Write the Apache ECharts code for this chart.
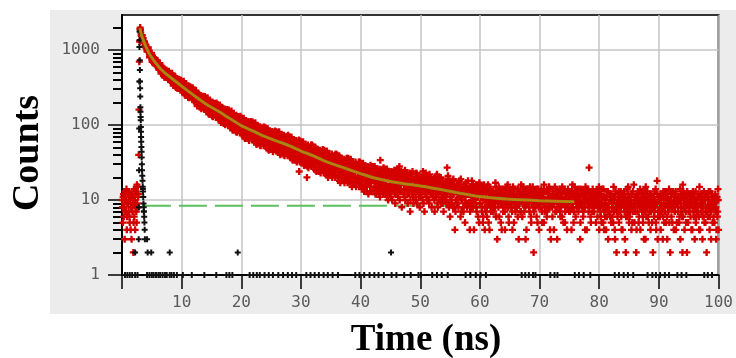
<!DOCTYPE html>
<html>
<head>
<meta charset="utf-8">
<script src="https://cdn.jsdelivr.net/npm/echarts@6/dist/echarts.min.js"></script>
<style>html,body{margin:0;padding:0;background:#fff;}#c{width:736px;height:358px;}</style>
</head>
<body>
<div id="c"></div>
<script>
// ---- data ----
const xMin = 0, xMax = 100, xInterval = 10;
const yMin = 1, yMax = 2930;
const yTickValues = [1, 10, 100, 1000];
const minorTickValues = [2,3,4,5,6,7,8,9,20,30,40,50,60,70,80,90,200,300,400,500,600,700,800,900,2000];
// red decay counts, channel set A: one value per 0.1 ns starting at 0.1 ns
const redStartA = 0.1, redStep = 0.1;
const redCountsA = [
8,11,6,9,13,7,10,4,9,12,
7,10,5,12,8,3,11,9,2,14,
9,4,12,7,16,8,11,40,700,1900,
1865,1571,1579,1569,1366,1260,1311,1279,1156,1080,
1052,953,1024,1081,982,800,884,908,848,824,
720,800,673,747,787,629,683,611,725,653,
655,584,545,622,525,582,511,547,488,570,
433,515,535,458,503,443,514,414,485,437,
463,374,438,489,400,336,419,442,383,359,
347,418,307,371,406,307,356,291,394,329,
378,314,280,349,262,343,278,311,257,332,
232,301,317,253,291,250,309,225,285,245,
269,202,250,288,221,179,242,260,215,197,
196,248,165,213,240,173,210,161,240,190,
227,182,157,206,145,206,160,183,144,198,
132,181,193,147,174,150,193,132,175,146,
170,120,156,185,135,108,156,169,135,122,
124,164,101,137,157,108,137,98,159,121,
151,117,98,136,89,137,101,119,89,131,
81,119,127,93,113,96,128,82,115,93,
112,74,101,123,85,66,102,113,87,77,
80,111,62,91,106,70,92,63,110,80,
105,79,64,93,57,97,69,83,59,92,
54,83,90,63,79,67,93,56,82,65,
82,52,73,90,60,46,74,82,62,54,
58,82,44,66,78,50,68,45,81,58,
79,58,47,70,41,73,51,62,43,69,
40,63,69,47,60,51,71,42,63,49,
62,38,55,69,45,34,57,63,47,40,
43,62,32,50,59,37,24,32,61,43,
59,43,34,51,29,55,37,46,31,20,
28,47,51,34,44,37,54,30,47,36,
46,27,41,51,33,24,42,47,34,29,
31,46,23,36,44,27,38,23,46,32,
44,31,24,38,21,41,27,34,22,38,
21,35,38,25,33,27,40,22,35,26,
35,20,31,39,24,17,32,36,25,21,
24,35,17,28,33,20,29,17,36,24,
35,24,18,30,16,32,21,26,17,30,
16,27,30,19,25,21,32,17,27,20,
27,15,24,31,19,13,25,28,20,16,
18,28,12,22,27,15,23,13,28,19,
28,19,14,24,12,26,16,21,13,24,
12,22,34,15,21,17,26,13,22,16,
23,12,20,26,15,10,21,24,16,13,
15,24,10,18,23,13,19,9,25,16,
14,22,11,18,28,13,20,24,8,17,
21,12,17,24,10,19,14,22,9,16,
12,23,7,15,20,13,24,11,18,15,
19,11,16,22,9,17,13,21,8,15,
12,20,14,10,22,16,7,18,23,13,
18,10,15,21,9,13,20,12,8,16,
11,17,14,7,20,12,16,22,9,15,
16,10,13,19,9,14,18,11,7,15,
10,16,12,9,27,13,17,8,19,6,
15,9,13,18,8,12,16,4,7,14,
9,15,12,8,17,11,14,19,7,12,
14,8,12,16,5,11,15,9,13,18,
9,14,4,15,8,12,10,16,11,4,
13,10,16,8,11,14,6,12,17,9,
11,14,8,12,5,10,16,4,13,7,
10,6,13,9,15,4,11,8,12,10,
13,9,7,11,10,17,6,12,3,9,
8,12,10,14,5,11,9,13,7,10,
12,4,9,11,15,8,10,6,13,11,
9,13,11,7,10,12,5,14,9,8,
11,8,14,10,3,9,12,7,16,10,
6,10,12,9,13,8,11,4,10,14,
12,9,7,15,10,5,13,9,11,2,
10,13,8,11,6,12,9,14,4,10,
9,11,14,7,10,12,5,9,13,8,
13,6,10,12,9,15,8,11,3,10,
8,12,9,4,11,10,14,7,12,9,
11,9,13,10,6,8,12,15,9,5,
10,14,7,9,12,4,11,8,13,10,
7,10,12,9,16,8,5,11,10,13,
12,8,10,13,7,11,9,3,14,9,
9,11,6,10,12,8,15,10,4,11,
13,7,27,9,10,5,12,9,14,8,
8,12,10,11,9,11,6,13,10,4,
9,7,12,5,10,8,14,4,11,6,
8,11,6,13,3,9,7,10,12,5,
10,6,9,15,7,4,11,8,2,9,
7,12,5,8,10,13,6,9,4,11,
11,8,3,10,6,9,14,7,12,5,
6,10,9,4,12,7,8,16,5,10,
9,2,11,7,10,5,13,8,4,9,
12,7,6,10,3,11,9,15,6,8,
8,10,5,9,12,4,7,11,10,2,
10,6,13,8,5,9,18,3,7,11,
7,9,4,11,8,12,6,10,5,13,
11,5,10,3,9,7,14,8,2,10,
6,12,8,9,4,11,7,13,9,5,
9,7,11,5,10,3,12,8,6,16,
13,8,4,10,7,9,2,11,5,9,
8,10,6,12,9,4,13,7,10,3,
10,5,9,7,11,8,6,15,4,12,
7,11,3,9,6,10,12,5,8,2,
12,6,10,8,4,13,7,9,11,5,
9,8,5,11,7,3,10,6,14,4
];
// red decay counts, channel set B: one value per 0.1 ns starting at 0.05 ns
const redStartB = 0.05;
const redCountsB = [
10,5,12,8,3,11,7,14,6,9,
9,13,6,10,4,8,12,7,11,5,
6,10,8,13,5,9,15,12,160,1300,
1993,1710,1533,1566,1354,1436,1279,1265,1138,1186,
1102,1023,980,1066,958,924,851,887,826,912,
694,782,803,721,769,668,741,637,711,662,
640,547,613,666,574,485,569,593,533,509,
478,555,432,503,542,426,480,408,522,450,
495,424,385,462,366,448,376,412,352,436,
317,394,411,340,382,334,400,306,373,328,
360,278,337,384,302,250,327,349,294,272,
269,334,231,290,323,235,280,220,315,255,
293,239,210,268,195,264,210,237,192,255,
172,230,243,190,221,192,242,171,221,187,
214,156,197,231,172,139,194,209,170,155,
156,203,129,172,195,137,170,126,196,152,
187,147,126,169,115,172,130,151,116,165,
105,150,160,119,143,123,161,106,145,119,
141,97,128,154,109,85,127,139,109,97,
100,135,80,112,130,86,111,78,131,97,
124,94,78,111,70,114,83,98,72,109,
66,99,107,76,94,81,111,69,98,79,
97,62,87,107,72,55,88,98,74,65,
68,95,53,77,91,59,78,53,94,68,
92,68,55,81,48,84,59,71,50,79,
47,73,79,55,69,59,83,49,73,57,
73,45,65,81,53,40,67,74,55,48,
52,73,39,59,70,44,60,39,73,51,
70,51,41,62,36,64,44,54,38,61,
34,55,60,41,52,44,63,36,55,42,
54,32,48,60,38,29,49,55,41,35,
37,54,27,43,51,32,45,28,54,38,
52,37,29,45,25,48,32,40,27,45,
24,40,44,29,38,32,47,26,41,31,
40,23,35,45,28,20,37,41,30,25,
28,41,20,32,39,24,33,20,41,28,
40,28,21,34,18,36,24,30,20,34,
18,31,34,22,29,24,36,19,31,23,
31,18,27,35,21,15,28,32,23,19,
21,32,15,25,30,18,26,15,32,22,
31,21,16,27,14,28,18,23,15,27,
13,24,27,17,23,19,29,15,25,18,
25,14,22,28,17,12,23,26,18,15,
17,26,11,20,25,14,21,12,27,17,
26,18,13,22,11,24,15,20,12,23,
11,21,23,14,19,16,25,12,21,15,
19,12,25,15,21,10,17,23,13,18,
13,20,16,11,25,18,14,21,12,19,
17,14,21,10,16,22,12,19,9,15,
14,18,10,23,13,16,20,11,17,12,
17,11,19,13,24,9,15,21,12,16,
11,19,14,17,10,22,13,16,12,18,
16,12,19,10,14,18,11,21,13,8,
12,17,10,14,20,11,15,9,18,13,
14,11,18,10,15,12,21,9,13,16,
11,17,10,14,12,19,8,13,15,10,
13,10,16,9,12,18,11,6,14,10,
10,13,7,15,11,9,17,12,8,14,
12,9,15,7,13,10,18,11,8,14,
10,15,9,12,7,13,11,16,5,12,
9,12,15,7,11,6,13,10,8,14,
12,8,10,16,5,11,9,14,7,12,
7,11,13,9,12,8,15,6,10,13,
11,15,6,10,9,13,4,12,14,8,
10,7,12,14,9,11,16,8,5,12,
13,10,8,11,4,15,9,12,10,7,
8,12,10,6,14,9,11,13,7,12,
11,9,15,12,7,10,3,14,9,11,
10,14,8,11,13,6,12,9,15,8,
7,11,12,9,10,14,5,11,8,13,
12,8,10,13,5,11,9,16,7,10,
9,13,7,10,12,8,14,4,11,9,
11,6,13,9,10,15,7,12,10,3,
8,12,10,14,7,9,11,6,13,10,
13,9,5,11,10,12,8,14,9,7,
10,12,8,4,13,9,11,7,15,10,
6,11,9,12,10,14,8,10,5,12,
12,8,13,7,11,9,4,12,10,14,
9,14,10,8,12,6,11,13,7,10,
11,7,12,10,5,13,9,8,12,15,
8,12,6,10,9,14,5,11,7,9,
10,4,11,8,13,7,9,12,6,10,
12,8,9,5,11,10,3,13,8,7,
6,10,13,9,7,11,8,4,12,10,
9,13,7,11,2,8,10,6,15,9,
11,7,10,8,12,5,13,9,7,11,
7,10,4,12,9,11,6,10,14,8,
10,9,12,5,8,13,7,3,10,12,
13,6,9,11,7,10,12,8,5,9,
8,11,7,10,14,4,9,12,6,10,
10,6,12,9,7,11,3,13,8,11,
7,12,9,6,11,8,10,5,13,9,
11,8,5,13,9,10,7,12,4,10,
9,11,8,10,6,14,9,7,11,2,
6,10,12,8,11,5,10,13,9,7,
12,7,9,11,4,10,8,12,6,11,
8,13,6,10,9,7,12,4,11,9,
10,9,12,6,8,13,5,10,7,12,
7,11,8,13,10,6,9,3,12,8,
11,6,10,9,12,8,4,11,7,10
];
// instrument response (black) points [time ns, counts]
const irfPoints = [
[2.80,3],[2.83,8],[2.86,25],[2.88,90],[2.90,380],[2.92,1100],[2.94,1760],[2.96,1360],
[2.98,730],[3.00,540],[3.02,380],[3.04,310],[3.06,240],[3.08,173],[3.10,150],[3.12,128],
[3.14,116],[3.16,94],[3.18,81],[3.20,69],[3.22,60],[3.25,51],[3.28,44],[3.30,37],
[3.33,30],[3.36,25],[3.40,21],[3.44,18],[3.48,15],[3.50,14],[3.52,13],[3.56,11],
[3.60,9],[3.64,8],[3.66,7],[3.68,7],[3.72,6],[3.76,5],[3.80,4],[3.84,3],
[2.2,2],[4.2,3],[4.3,2],[4.9,2],[8.0,2],[19.4,2],[45.1,2]
];
// black points lying on the count = 1 baseline (time ns)
const baselineTimes = [
0.5,0.9,1.3,1.7,2.2,2.6,4.2,4.6,5.0,5.3,5.7,6.1,6.4,6.8,7.2,7.5,8.0,8.3,8.7,9.2,
10.2,11.7,13.8,15.8,17.5,18.0,18.5,21.4,22.0,22.6,23.1,23.9,24.6,25.3,26.2,27.0,27.8,
28.5,29.2,30.9,31.6,32.3,33.0,33.8,34.5,35.3,36.2,39.1,39.8,40.6,41.5,42.3,43.0,43.9,
45.2,46.0,47.3,48.4,49.7,50.1,52.0,52.8,53.6,54.6,57.6,58.4,59.3,60.1,61.0,67.0,67.6,
68.2,68.9,69.3,71.8,72.5,73.0,75.9,76.6,77.4,78.5,82.6,83.3,84.1,84.8,85.7,88.1,88.9,
89.5,90.2,91.0,91.7,93.1,93.8,94.6,97.6,98.2,98.9
];
// fitted decay curve points [time ns, counts]
const fitPoints = [
[3.0,1950],[3.2,1650],[3.5,1400],[4.0,1120],[4.7,860],[6,620],[7,510],[8,440],[10,330],
[12,250],[14,192],[16.3,150],[18,123],[20,98],[22,83],[24,70],[26,61],[28,53],[30,45],
[32,39],[34,33],[36,29],[38,25.5],[40,22.5],[42,20],[45,17.7],[48,16.2],[50,15.4],
[53,14],[56,12.6],[60,11.1],[65,10.2],[70,9.8],[75.8,9.5]
];
// background level (green dashed)
const bgLevel = 8.4, bgFrom = 3.5, bgTo = 100;

// ---- build ----
const redData = redCountsA.map((c, i) => [+(redStartA + i * redStep).toFixed(3), c])
  .concat(redCountsB.map((c, i) => [+(redStartB + i * redStep).toFixed(3), c]));
const blackData = irfPoints.concat(baselineTimes.map(t => [t, 1]));
const plus = 'path://M2,0H4V2H6V4H4V6H2V4H0V2H2Z';
const isMajor = v => yTickValues.some(t => Math.abs(t - v) < 1e-6 * t);

const chart = echarts.init(document.getElementById('c'), null, {renderer: 'canvas'});
chart.setOption({
  animation: false,
  backgroundColor: '#ffffff',
  graphic: [
    {type: 'rect', z: -10, silent: true, shape: {x: 50, y: 10, width: 686, height: 304}, style: {fill: '#ececec'}},
    {type: 'text', x: 28, y: 153, rotation: Math.PI / 2,
     style: {text: 'Counts', fontFamily: 'Liberation Serif', fontWeight: 'bold', fontSize: 38, fill: '#000', align: 'center', verticalAlign: 'middle'}},
    {type: 'text', x: 426, y: 340,
     style: {text: 'Time (ns)', fontFamily: 'Liberation Serif', fontWeight: 'bold', fontSize: 37, fill: '#000', align: 'center', verticalAlign: 'middle'}}
  ],
  grid: {left: 122, top: 15, width: 599, height: 260, show: true, backgroundColor: '#ffffff', borderColor: '#333', borderWidth: 2},
  xAxis: {
    type: 'value', min: xMin, max: xMax, interval: xInterval,
    axisLine: {onZero: false, lineStyle: {color: '#000', width: 2}},
    axisTick: {length: 14, lineStyle: {color: '#000', width: 1.5}},
    axisLabel: {margin: 20, color: '#5a5a5a', fontFamily: 'DejaVu Sans Mono', fontSize: 16,
      formatter: v => (v === 0 ? '' : String(v))},
    splitLine: {show: true, lineStyle: {color: '#c4c4c4', width: 1.5}}
  },
  yAxis: [
    {
      type: 'log', logBase: 10, min: yMin, max: yMax,
      axisLine: {show: true, lineStyle: {color: '#000', width: 2}},
      axisTick: {show: true, length: 14, customValues: yTickValues, lineStyle: {color: '#000', width: 1.5}},
      axisLabel: {margin: 22, color: '#5a5a5a', fontFamily: 'DejaVu Sans Mono', fontSize: 16,
        customValues: yTickValues,
        formatter: v => (isMajor(v) ? String(Math.round(v)) : '')},
      splitLine: {show: true, lineStyle: {color: '#c4c4c4', width: 1.5}}
    },
    {
      type: 'log', logBase: 10, min: yMin, max: yMax, position: 'left', offset: 0,
      axisLine: {show: false},
      axisTick: {show: true, length: 9, customValues: minorTickValues, lineStyle: {color: '#000', width: 2}},
      axisLabel: {show: false},
      splitLine: {show: false}
    }
  ],
  series: [
    {type: 'line', silent: true, symbol: 'none', z: 2,
     data: [[bgFrom, bgLevel], [bgTo, bgLevel]],
     lineStyle: {color: '#5cc05c', width: 2, type: [28, 8]}},
    {type: 'scatter', silent: true, symbol: plus, symbolSize: 7, z: 3,
     data: redData, itemStyle: {color: '#d40000', opacity: 1}},
    {type: 'scatter', silent: true, symbol: plus, symbolSize: 6, z: 4,
     data: blackData, itemStyle: {color: '#111111', opacity: 1}},
    {type: 'line', silent: true, symbol: 'none', smooth: 0.3, z: 6,
     data: fitPoints, lineStyle: {color: '#8c8a20', width: 3}},
    {type: 'line', silent: true, symbol: 'none', smooth: 0.3, z: 7,
     data: fitPoints, lineStyle: {color: '#d07a00', width: 1.2}}
  ]
});
</script>
</body>
</html>
